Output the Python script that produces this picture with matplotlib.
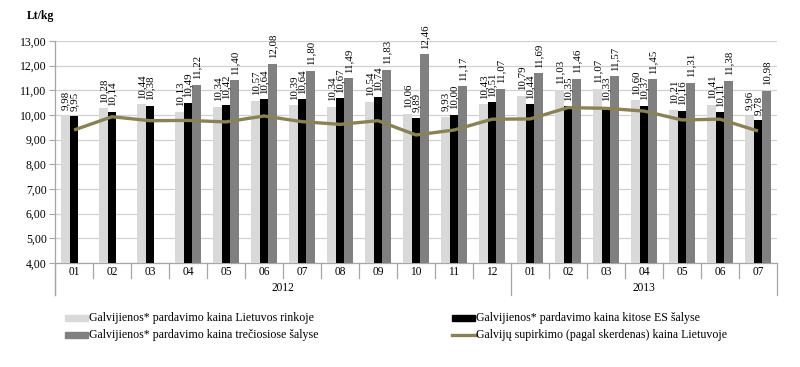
import numpy as np
import matplotlib
matplotlib.use("Agg")
import matplotlib.pyplot as plt
from matplotlib.transforms import blended_transform_factory
from matplotlib.patches import Rectangle
from matplotlib.lines import Line2D

plt.rcParams['font.family'] = ['Liberation Serif', 'DejaVu Serif']

months = ["01", "02", "03", "04", "05", "06", "07", "08", "09", "10", "11", "12",
          "01", "02", "03", "04", "05", "06", "07"]
years = ["2012", "2013"]
year_counts = [12, 7]

lt_market = [9.98, 10.28, 10.44, 10.13, 10.34, 10.57, 10.39, 10.34, 10.54, 10.06, 9.93, 10.43,
             10.79, 11.03, 11.07, 10.60, 10.21, 10.41, 9.96]
eu_market = [9.95, 10.14, 10.38, 10.49, 10.42, 10.64, 10.64, 10.67, 10.74, 9.89, 10.00, 10.51,
             10.44, 10.35, 10.33, 10.37, 10.16, 10.11, 9.78]
third_market = [np.nan, np.nan, np.nan, 11.22, 11.40, 12.08, 11.80, 11.49, 11.83, 12.46, 11.17, 11.07,
                11.69, 11.46, 11.57, 11.45, 11.31, 11.38, 10.98]
purchase_price = [9.39, 9.93, 9.77, 9.78, 9.72, 9.96, 9.73, 9.62, 9.77, 9.19, 9.39, 9.83,
                  9.84, 10.30, 10.27, 10.16, 9.80, 9.83, 9.35]

series_names = ["Galvijienos* pardavimo kaina Lietuvos rinkoje",
                "Galvijienos* pardavimo kaina kitose ES šalyse",
                "Galvijienos* pardavimo kaina trečiosiose šalyse",
                "Galvijų supirkimo (pagal skerdenas) kaina Lietuvoje"]

c_light = "#d9d9d9"
c_black = "#000000"
c_dark = "#808080"
c_line = "#8a8257"
c_grid = "#d0d0d0"
c_axis = "#a6a6a6"

fig = plt.figure(figsize=(8, 3.67), dpi=100)
ax = fig.add_axes([55/800, 1 - 263/367, (777-55)/800, 222/367])

x = np.arange(len(months))
w = 0.22
ax.bar(x - w, lt_market, w, color=c_light, zorder=2)
ax.bar(x, eu_market, w, color=c_black, zorder=2)
ax.bar(x + w, third_market, w, color=c_dark, zorder=2)
ax.plot(x, purchase_price, color=c_line, lw=2.4, zorder=3, solid_capstyle='butt')

def fmt(v):
    return f"{v:.2f}".replace(".", ",")

for vals, off in ((lt_market, -w), (eu_market, 0), (third_market, w)):
    for xi, v in zip(x, vals):
        if np.isnan(v):
            continue
        ax.annotate(fmt(v), (xi + off, v), xytext=(0, 4), textcoords="offset points",
                    rotation=90, ha="center", va="bottom", fontsize=7.8, zorder=4)

ax.set_xlim(-0.5, len(months) - 0.5)
ax.set_ylim(4, 13)
yt = np.arange(4, 14, 1)
ax.set_yticks(yt)
ax.set_yticklabels([fmt(v) for v in yt], fontsize=8.5)
ax.tick_params(axis='y', length=4, color=c_axis, pad=2)
ax.set_xticks([])
ax.grid(axis='y', color=c_grid, lw=0.9, zorder=0)
ax.set_axisbelow(True)
for s in ax.spines.values():
    s.set_visible(False)

trans = blended_transform_factory(ax.transData, ax.transAxes)
ax.plot([-0.5, len(months) - 0.5], [0, 0], color=c_axis, lw=0.9, transform=trans, clip_on=False, zorder=1)
ax.plot([-0.5, -0.5], [1, -0.144], color=c_axis, lw=0.9, transform=trans, clip_on=False)

month_y = -0.04
year_y = -0.113
for xi, m in zip(x, months):
    ax.text(xi, month_y, m, transform=trans, ha="center", va="center", fontsize=8.3)

boundaries = np.cumsum([0] + year_counts)
year_edges = set((boundaries - 0.5).tolist())
for b in np.arange(-0.5, len(months), 1.0):
    if b in year_edges:
        ax.plot([b, b], [0, -0.144], color=c_axis, lw=0.9, transform=trans, clip_on=False)
    else:
        ax.plot([b, b], [0, -0.068], color=c_axis, lw=0.9, transform=trans, clip_on=False)

for i, yr in enumerate(years):
    center = (boundaries[i] + boundaries[i + 1] - 1) / 2
    ax.text(center, year_y, yr, transform=trans, ha="center", va="center", fontsize=8.3)

fig.text(27/800, 1 - 16/367, "Lt/kg", fontsize=8.5, fontweight="bold", ha="left", va="center")

def fx(px):
    return px / 800
def fy(py):
    return 1 - py / 367

legend_items = [
    (65, 318, "patch", c_light, series_names[0]),
    (452, 318, "patch", c_black, series_names[1]),
    (65, 335, "patch", c_dark, series_names[2]),
    (452, 335, "line", c_line, series_names[3]),
]
for px, py, kind, col, label in legend_items:
    if kind == "patch":
        fig.patches.append(Rectangle((fx(px), fy(py + 3)), fx(23), 6/367, color=col,
                                     transform=fig.transFigure, figure=fig))
    else:
        fig.lines.append(Line2D([fx(px), fx(px + 24)], [fy(py), fy(py)], color=col, lw=2.4,
                                transform=fig.transFigure, figure=fig))
    fig.text(fx(px + 24), fy(py), label, fontsize=8.6, ha="left", va="center")

fig.savefig("out.png", dpi=100)
